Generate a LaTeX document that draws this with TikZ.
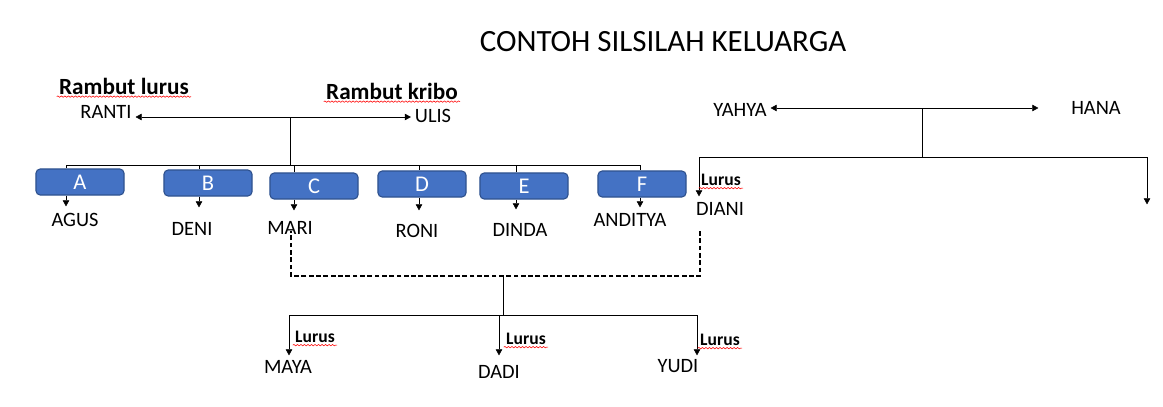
\documentclass[tikz,border=0pt]{standalone}
\usepackage{fontspec}
\setmainfont{Carlito}
\usetikzlibrary{arrows.meta,positioning,decorations.pathmorphing}
\definecolor{kotakbiru}{HTML}{4472C4}
\definecolor{tepibiru}{HTML}{2F528F}

\begin{document}
\begin{tikzpicture}[x=0.025cm,y=-0.025cm]
\tikzset{line width=1.4pt, >={Triangle[length=6pt,width=6pt]},
	judul/.style={font=\fontsize{22}{26}\selectfont},
	nama/.style={font=\fontsize{14.5}{17}\selectfont, inner sep=1pt},
	kotak/.style={draw=tepibiru, fill=kotakbiru, line width=0.8pt, rounded corners=3pt,
		minimum width=2.2cm, minimum height=0.65cm, text=white, font=\fontsize{16}{18}\selectfont},
	coret/.style={draw=red, line width=0.4pt, decorate, decoration={snake, amplitude=0.5pt, segment length=2.5pt}},
	sifat/.style={font=\bfseries\fontsize{16.5}{19}\selectfont, inner sep=1pt,
		append after command={(\tikzlastnode.south west) edge[coret] (\tikzlastnode.south east)}},
	lurus/.style={font=\bfseries\fontsize{12.5}{15}\selectfont, inner sep=1pt,
		append after command={(\tikzlastnode.south west) edge[coret] (\tikzlastnode.south east)}},
	putus/.style={line width=1.2pt, dash pattern=on 3.4pt off 1.8pt}}
\useasboundingbox (0,0) rectangle (1163,407);

\node[judul] (judul) at (663,42) {CONTOH SILSILAH KELUARGA};

% keluarga Ranti dan Ulis
\node[sifat] (sifatranti) at (124,86) {Rambut lurus};
\node[sifat] (sifatulis) at (392,91) {Rambut kribo};
\node[nama] (ranti) at (106,112) {RANTI};
\node[nama] (ulis) at (433,116) {ULIS};
\coordinate (nikah1) at (290,117);
\coordinate (cabang1) at (290,165);
\draw[<->] (ranti.east |- nikah1) -- (ulis.west |- nikah1);
\draw (nikah1) -- (cabang1);
\foreach \k/\bx/\by/\ax/\uy/\n/\nx/\ny in {A/80/182/66/208/AGUS/75/220, B/208/183/199/209/DENI/192/229,
		C/314/186/294/212/MARI/290/228, D/422/184/419/212/RONI/417/231,
		E/524/186/516/211/DINDA/520/230, F/642/184/640/209/ANDITYA/630/220}{
	\node[kotak] (kotak\k) at (\bx,\by) {\k};
	\node[nama] (anak\k) at (\nx,\ny) {\n};
	\coordinate (x\k) at (\ax,\uy);
	\draw (x\k |- cabang1) -- (x\k |- kotak\k.north);
	\draw[->] (x\k |- kotak\k.south) -- (x\k);
}
\draw (xA |- cabang1) -- (xF |- cabang1);

% keluarga Yahya dan Hana
\node[nama] (yahya) at (740,110) {YAHYA};
\node[nama] (hana) at (1096,108) {HANA};
\coordinate (nikah2) at (922,108);
\coordinate (ujung2) at (1040,108);
\coordinate (cabang2) at (922,157);
\coordinate (kiri2) at (699,198);
\coordinate (kanan2) at (1147,206);
\draw[<->] (yahya.east |- nikah2) -- (ujung2);
\draw (nikah2) -- (cabang2);
\draw[<->] (kiri2) -- (kiri2 |- cabang2) -- (kanan2 |- cabang2) -- (kanan2);
\node[lurus] (lurusdiani) at (721,180) {Lurus};
\node[nama] (diani) at (720,209) {DIANI};

% Mari menikah dengan Diani
\coordinate (dk) at (700,231);
\coordinate (dm) at (291,231);
\coordinate (tengah) at (503,276);
\coordinate (cabang3) at (503,315);
\draw[putus] (dk) -- (dk |- tengah) -- (dm |- tengah) -- (dm);
\draw (tengah) -- (cabang3);
\coordinate (maya1) at (289,357);
\coordinate (dadi1) at (499,357);
\coordinate (yudi1) at (697,357);
\draw[<->] (maya1) -- (maya1 |- cabang3) -- (yudi1 |- cabang3) -- (yudi1);
\draw[->] (dadi1 |- cabang3) -- (dadi1);
\node[lurus] (lurusmaya) at (315,337) {Lurus};
\node[lurus] (lurusdadi) at (526,339) {Lurus};
\node[lurus] (lurusyudi) at (720,340) {Lurus};
\node[nama] (maya) at (288,367) {MAYA};
\node[nama] (dadi) at (499,372) {DADI};
\node[nama] (yudi) at (678,366) {YUDI};
\end{tikzpicture}
\end{document}
